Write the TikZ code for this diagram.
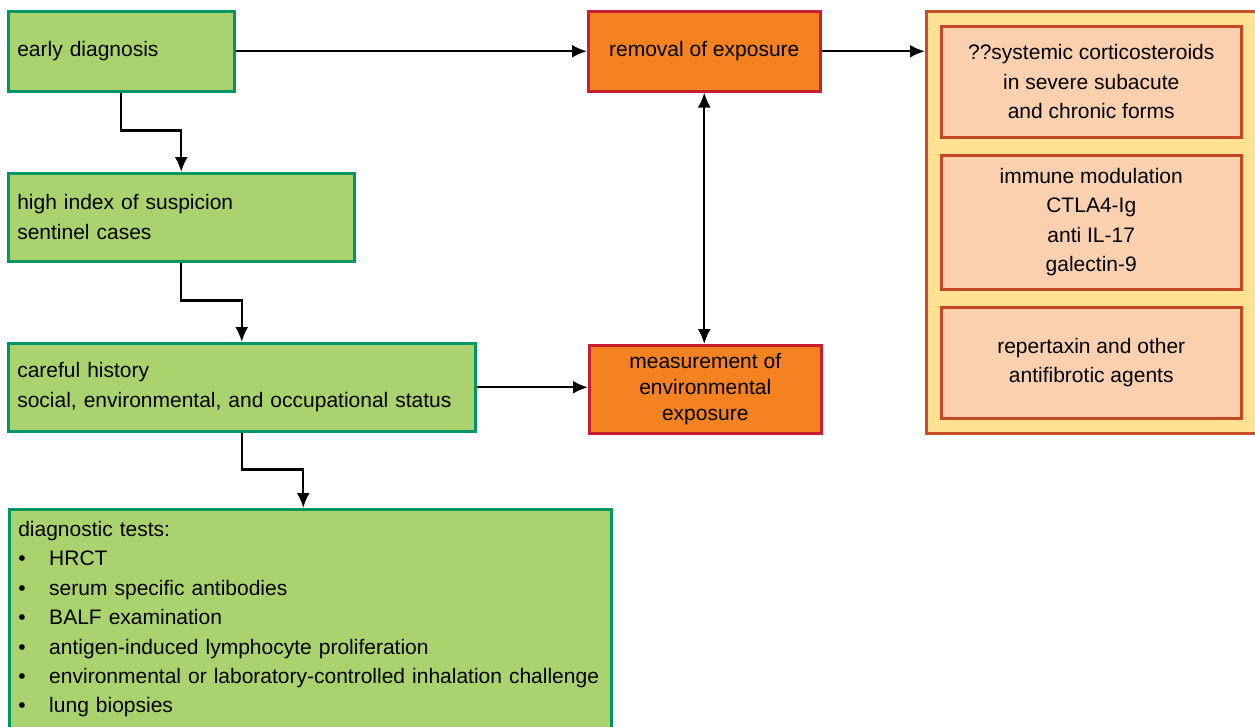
\documentclass[tikz,border=0pt]{standalone}
\usepackage{fontspec}
\setmainfont{Liberation Sans}
\usetikzlibrary{arrows.meta,calc}
\definecolor{gfill}{RGB}{170,210,110}
\definecolor{gline}{RGB}{0,150,100}
\definecolor{ofill}{RGB}{244,130,32}
\definecolor{oline}{RGB}{200,30,50}
\definecolor{yfill}{RGB}{255,226,145}
\definecolor{yline}{RGB}{196,80,40}
\definecolor{pfill}{RGB}{250,208,174}
\definecolor{pline}{RGB}{196,72,40}
\tikzset{
  gbox/.style={draw=gline, fill=gfill, line width=2.5pt, anchor=north west, align=left, inner xsep=9pt, inner ysep=0pt, font=\fontsize{21}{30}\selectfont},
  obox/.style={draw=oline, fill=ofill, line width=2.5pt, anchor=north west, align=center, inner sep=0pt, font=\fontsize{21}{26}\selectfont},
  pbox/.style={draw=pline, fill=pfill, line width=2.5pt, anchor=north west, align=center, inner sep=0pt, minimum width=300pt, font=\fontsize{21}{29.5}\selectfont},
  arr/.style={line width=2.4pt, -{Latex[length=15pt,width=13pt]}},
  darr/.style={line width=2.4pt, {Latex[length=15pt,width=13pt]}-{Latex[length=15pt,width=13pt]}}
}
\newcommand{\bul}[1]{\makebox[31pt][l]{\textbullet}#1}
\begin{document}
\begin{tikzpicture}[x=1pt,y=-1pt]
\useasboundingbox (0,0) rectangle (1255,726);
\fill[white] (0,0) rectangle (1255,726);
\begin{scope}
\clip (0,0) rectangle (1255,726);
\node[gbox, text width=208pt, minimum height=80pt] (early) at (7,10) {early diagnosis};
\node[gbox, text width=328pt, minimum height=88pt] (high) at (7,172) {high index of suspicion\\sentinel cases};
\node[gbox, text width=449pt, minimum height=88pt] (careful) at (7,342) {careful history\\social, environmental, and occupational status};
\node[gbox, text width=584pt, inner ysep=12pt, font=\fontsize{21}{29.4}\selectfont] (diag) at (8,508) {diagnostic tests:\\\bul{HRCT}\\\bul{serum specific antibodies}\\\bul{BALF examination}\\\bul{antigen-induced lymphocyte proliferation}\\\bul{environmental or laboratory-controlled inhalation challenge}\\\bul{lung biopsies}};
\node[obox, minimum width=232pt, minimum height=80pt] (removal) at (587,10) {removal of exposure};
\node[obox, minimum width=232pt, minimum height=88pt] (meas) at (588,344) {measurement of\\environmental\\exposure};
\node[draw=yline, fill=yfill, line width=2.5pt, anchor=north west, minimum width=340pt, minimum height=422pt, inner sep=0pt] (outer) at (925,10) {};
\node[pbox, minimum height=111pt] (p1) at (940,25) {??systemic corticosteroids\\in severe subacute\\and chronic forms};
\node[pbox, minimum height=134pt] (p2) at (940,154) {immune modulation\\CTLA4-Ig\\anti IL-17\\galectin-9};
\node[pbox, minimum height=111pt] (p3) at (940,306) {repertaxin and other\\antifibrotic agents};
\end{scope}
\draw[arr] (early.east) -- (removal.west);
\draw[arr] (early.south) -- ++(0,38) -| (high.north);
\draw[arr] (high.south) -- ++(0,38) -| (careful.north);
\draw[arr] (careful.south) -- ++(0,37) -| ([xshift=-7pt]diag.north);
\draw[arr] (careful.east) -- (careful.east -| meas.west);
\draw[darr] (removal.south) -- (removal.south |- meas.north);
\draw[arr] (removal.east) -- (removal.east -| outer.west);
\end{tikzpicture}
\end{document}
